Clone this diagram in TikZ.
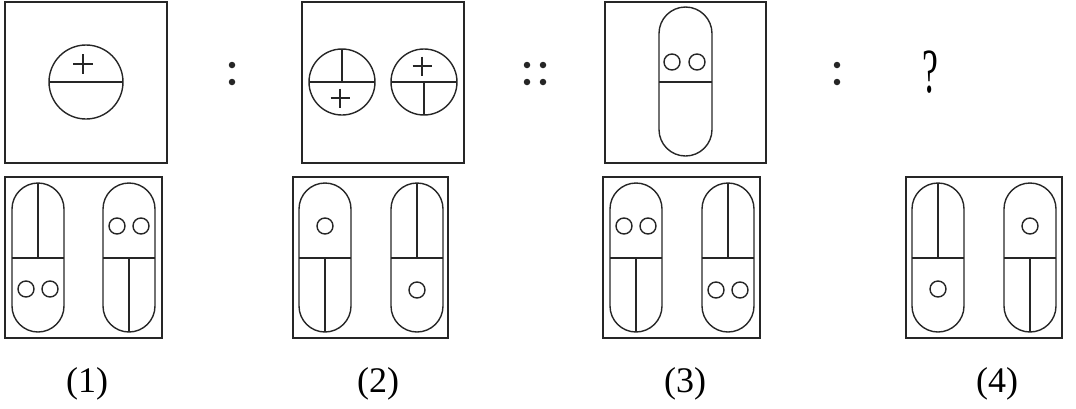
\documentclass[tikz,border=0pt]{standalone}
\usepackage{fontspec}
\setmainfont{Liberation Serif}
\begin{document}
\begin{tikzpicture}[x=1pt,y=-1pt,
  ln/.style={line width=1.4pt,draw=black!85},
  frame/.style={ln},
  pill/.style={ln,rounded corners=26pt},
  dot/.style={circle,fill=black!85,inner sep=0pt,minimum size=6.5pt},
  lbl/.style={font=\fontsize{36}{42}\selectfont,anchor=base,inner sep=0pt}]
\useasboundingbox (0,0) rectangle (1076,408);
% ---------- top row ----------
\draw[frame] (5,2) rectangle (167,163);
\draw[ln] (86,82) circle (37);
\draw[ln] (49,82) -- (123,82);
\draw[ln] (73,64) -- (93,64) (83,54) -- (83,74);

\node[dot] (c1a) at (232,65) {};
\node[dot] (c1b) at (232,82) {};

\draw[frame] (302,2) rectangle (464,163);
\draw[ln] (342,82) circle (33);
\draw[ln] (309,82) -- (375,82) (342,49) -- (342,82);
\draw[ln] (330.5,98) -- (349.5,98) (340,88.5) -- (340,107.5);
\draw[ln] (424,82) circle (33);
\draw[ln] (391,82) -- (457,82) (424,82) -- (424,115);
\draw[ln] (412.5,66) -- (431.5,66) (422,56.5) -- (422,75.5);

\node[dot] (d1) at (527,65) {};
\node[dot] (d2) at (527,82) {};
\node[dot] (d3) at (543,65) {};
\node[dot] (d4) at (543,82) {};

\draw[frame] (605,2) rectangle (766,163);
\draw[ln,rounded corners=26.5pt] (659,7) rectangle (712,156);
\draw[ln] (659,82) -- (712,82);
\draw[ln] (672,62) circle (8) (697,62) circle (8);

\node[dot] (c3a) at (837,65) {};
\node[dot] (c3b) at (837,82) {};

\node[font=\fontsize{34}{40}\selectfont,inner sep=0pt] (q) at (930,72.5) {\scalebox{1.05}[1.85]{?}};

% ---------- bottom row ----------
% option 1
\draw[frame] (5,177) rectangle (162,338);
\draw[pill] (12,183) rectangle (64,332);
\draw[ln] (12,258) -- (64,258) (38,183) -- (38,258);
\draw[ln] (26,289) circle (8) (50,289) circle (8);
\draw[pill] (103,183) rectangle (155,332);
\draw[ln] (103,258) -- (155,258) (129,258) -- (129,332);
\draw[ln] (117,226) circle (8) (141,226) circle (8);
% option 2
\draw[frame] (293,177) rectangle (448,338);
\draw[pill] (299,183) rectangle (351,332);
\draw[ln] (299,258) -- (351,258) (325,258) -- (325,332);
\draw[ln] (325,226) circle (8);
\draw[pill] (391,183) rectangle (443,332);
\draw[ln] (391,258) -- (443,258) (417,183) -- (417,258);
\draw[ln] (417,290) circle (8);
% option 3
\draw[frame] (603,177) rectangle (760,338);
\draw[pill] (610,183) rectangle (662,332);
\draw[ln] (610,258) -- (662,258) (636,258) -- (636,332);
\draw[ln] (624,226) circle (8) (648,226) circle (8);
\draw[pill] (702,183) rectangle (754,332);
\draw[ln] (702,258) -- (754,258) (728,183) -- (728,258);
\draw[ln] (716,290) circle (8) (740,290) circle (8);
% option 4
\draw[frame] (906,177) rectangle (1062,338);
\draw[pill] (912,183) rectangle (964,332);
\draw[ln] (912,258) -- (964,258) (938,183) -- (938,258);
\draw[ln] (938,289) circle (8);
\draw[pill] (1004,183) rectangle (1056,332);
\draw[ln] (1004,258) -- (1056,258) (1030,258) -- (1030,332);
\draw[ln] (1030,226) circle (8);

% labels
\node[lbl] (l1) at (87,392) {(1)};
\node[lbl] (l2) at (378,392) {(2)};
\node[lbl] (l3) at (685,392) {(3)};
\node[lbl] (l4) at (997,392) {(4)};
\end{tikzpicture}
\end{document}
